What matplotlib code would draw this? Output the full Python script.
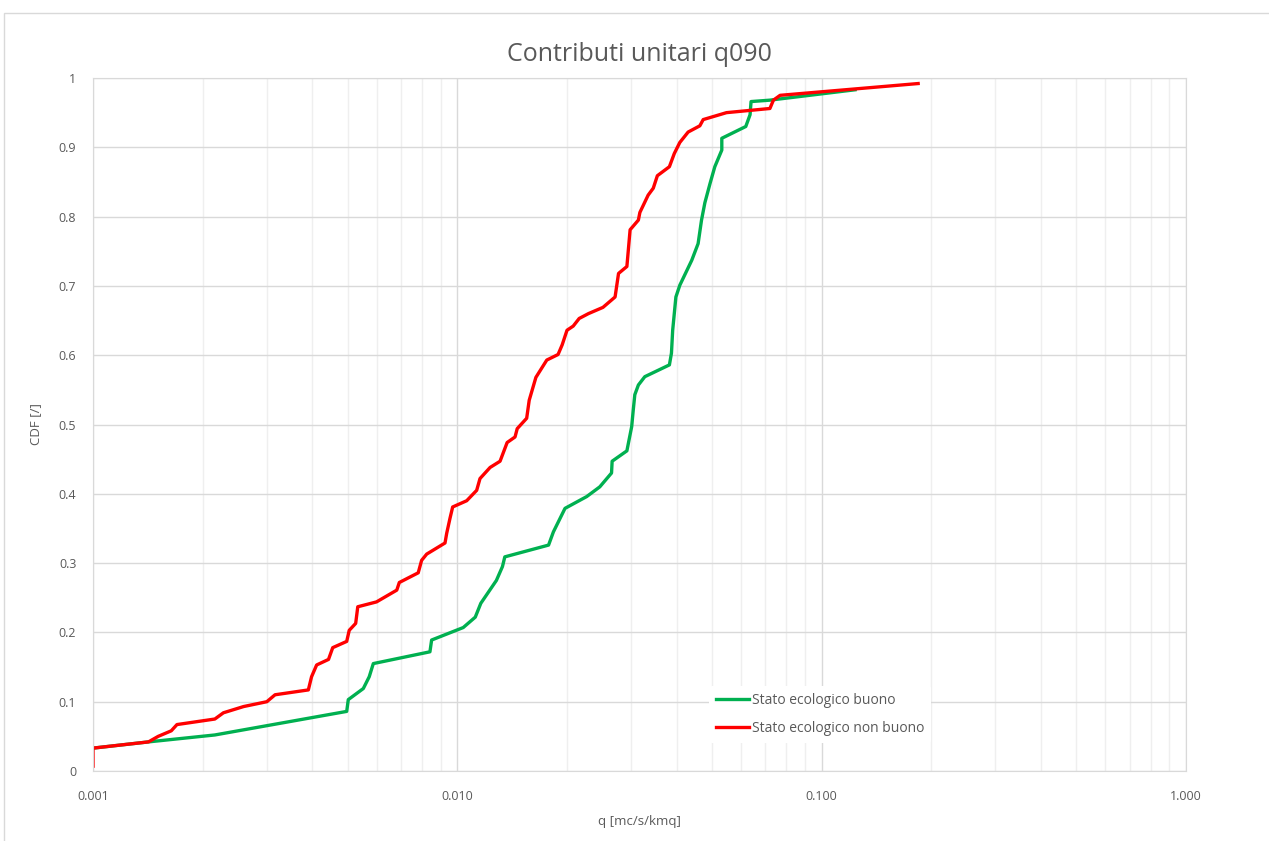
import numpy as np
import matplotlib.pyplot as plt
from matplotlib.patches import Rectangle
from matplotlib.ticker import FixedLocator, FuncFormatter, NullFormatter

# dati
q_buono = [0.001, 0.00142, 0.00216, 0.00497, 0.00502, 0.00552, 0.00573, 0.00588,
           0.00841, 0.0085, 0.01038, 0.0112, 0.0116, 0.0128, 0.0133, 0.0135,
           0.0178, 0.01835, 0.01975, 0.02265, 0.0246, 0.0265, 0.0266, 0.0292,
           0.0301, 0.0304, 0.0307, 0.0314, 0.0327, 0.0382, 0.0387, 0.0390,
           0.0398, 0.0408, 0.0440, 0.0458, 0.0468, 0.0478, 0.0494, 0.0509,
           0.0532, 0.0532, 0.0619, 0.0636, 0.0640, 0.0720, 0.1235]
cdf_buono = [0.033, 0.042, 0.052, 0.086, 0.103, 0.119, 0.136, 0.155,
             0.172, 0.189, 0.207, 0.222, 0.242, 0.275, 0.295, 0.309,
             0.326, 0.345, 0.379, 0.396, 0.410, 0.430, 0.447, 0.462,
             0.497, 0.521, 0.543, 0.557, 0.569, 0.586, 0.603, 0.636,
             0.684, 0.701, 0.737, 0.761, 0.795, 0.820, 0.848, 0.872,
             0.896, 0.913, 0.930, 0.947, 0.966, 0.968, 0.983]

q_non_buono = [0.001, 0.001, 0.00142, 0.00151, 0.00164, 0.0017, 0.00216, 0.00228,
               0.00259, 0.0030, 0.00316, 0.0039, 0.00398, 0.00411, 0.00443, 0.00455,
               0.00497, 0.00505, 0.00526, 0.00533, 0.0060, 0.00682, 0.00693, 0.00781,
               0.00798, 0.00824, 0.00925, 0.00935, 0.00955, 0.00971, 0.01061, 0.0113,
               0.01154, 0.0123, 0.0131, 0.0137, 0.0144, 0.0146, 0.0155, 0.01575,
               0.01643, 0.0176, 0.0189, 0.0194, 0.0200, 0.0208, 0.0216, 0.0229,
               0.0251, 0.0271, 0.0277, 0.0292, 0.0298, 0.0314, 0.0317, 0.0334,
               0.0345, 0.0354, 0.0382, 0.0394, 0.0408, 0.0430, 0.0463, 0.0473,
               0.0548, 0.0721, 0.0737, 0.0769, 0.184]
cdf_non_buono = [0.007, 0.033, 0.042, 0.050, 0.058, 0.067, 0.075, 0.084,
                 0.093, 0.100, 0.110, 0.117, 0.136, 0.153, 0.161, 0.178,
                 0.187, 0.203, 0.213, 0.237, 0.244, 0.261, 0.272, 0.286,
                 0.304, 0.313, 0.329, 0.343, 0.365, 0.381, 0.390, 0.405,
                 0.422, 0.438, 0.447, 0.474, 0.482, 0.494, 0.509, 0.535,
                 0.568, 0.593, 0.601, 0.615, 0.636, 0.642, 0.653, 0.660,
                 0.669, 0.684, 0.718, 0.728, 0.781, 0.795, 0.806, 0.831,
                 0.841, 0.859, 0.872, 0.891, 0.907, 0.922, 0.931, 0.940,
                 0.950, 0.956, 0.968, 0.975, 0.992]

x_ticks = [0.001, 0.01, 0.1, 1.0]
y_ticks = [0, 0.1, 0.2, 0.3, 0.4, 0.5, 0.6, 0.7, 0.8, 0.9, 1]

plt.rcParams['font.family'] = ['Open Sans', 'DejaVu Sans']
txt = '#595959'

fig = plt.figure(figsize=(12.69, 8.41), dpi=100)
fig.patches.append(Rectangle((4 / 1269, -0.1), 1.2, 1 - 13 / 841 + 0.1,
                             transform=fig.transFigure, fill=False,
                             edgecolor='#d9d9d9', linewidth=1))
ax = fig.add_axes([93 / 1269, 1 - 771 / 841, (1186 - 93) / 1269, (771 - 78) / 841])

ax.plot(q_buono, cdf_buono, color='#00B050', linewidth=2.4, solid_joinstyle='round',
        label='Stato ecologico buono')
ax.plot(q_non_buono, cdf_non_buono, color='#FF0000', linewidth=2.4, solid_joinstyle='round',
        label='Stato ecologico non buono')

ax.set_xscale('log')
ax.set_xlim(0.001, 1.0)
ax.set_ylim(0, 1)
ax.xaxis.set_major_locator(FixedLocator(x_ticks))
ax.xaxis.set_major_formatter(FuncFormatter(lambda v, p: f'{v:.3f}'))
ax.xaxis.set_minor_formatter(NullFormatter())
ax.set_yticks(y_ticks)
ax.set_yticklabels(['0' if v == 0 else ('1' if v == 1 else f'{v:.1f}') for v in y_ticks])

ax.grid(True, which='major', color='#d9d9d9', linewidth=1)
ax.grid(True, which='minor', axis='x', color='#efefef', linewidth=1)
ax.set_axisbelow(True)
for s in ax.spines.values():
    s.set_color('#d9d9d9')
ax.tick_params(which='both', length=0, colors=txt, labelsize=9)
ax.tick_params(axis='x', pad=14)
ax.tick_params(axis='y', pad=12)

ax.set_title('Contributi unitari q090', fontsize=18, color=txt, pad=12)
ax.set_xlabel('q [mc/s/kmq]', fontsize=9.5, color=txt, labelpad=8)
ax.set_ylabel('CDF [/]', fontsize=9.5, color=txt, labelpad=12)

leg = ax.legend(loc='center left', bbox_to_anchor=(0.557, 0.082), frameon=True,
                fontsize=10, labelcolor=txt, handlelength=2.4, labelspacing=0.95,
                handletextpad=0.2, borderpad=0.5)
leg.get_frame().set_facecolor('white')
leg.get_frame().set_edgecolor('none')
leg.get_frame().set_alpha(1)

fig.savefig('out.png', dpi=100)
